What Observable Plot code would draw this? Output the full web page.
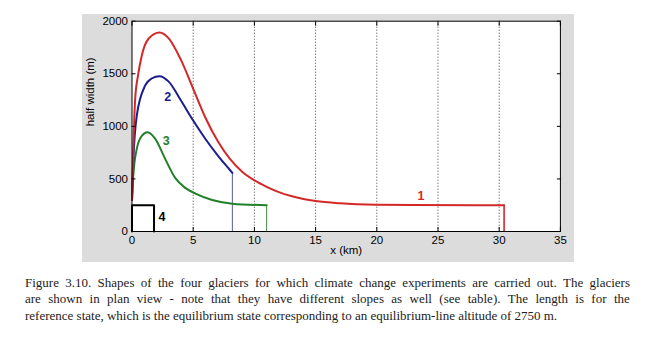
<!DOCTYPE html>
<html><head><meta charset="utf-8">
<script src="https://cdn.jsdelivr.net/npm/d3@7"></script>
<script src="https://cdn.jsdelivr.net/npm/@observablehq/plot@0.6"></script>
<style>
html,body{margin:0;padding:0;background:#fff;}
body{width:656px;height:341px;position:relative;overflow:hidden}
#panel{position:absolute;left:82px;top:14px;width:492px;height:248px;background:#dcdcdc}
#chart{position:absolute;left:0;top:0}
#caption{position:absolute;left:25px;top:274.5px;width:605px;font-family:"Liberation Serif","Times New Roman",serif;font-size:13px;line-height:16.5px;color:#222}
#caption .j{white-space:nowrap;display:flex;justify-content:space-between}
</style></head>
<body><div id="panel"></div><div id="chart"></div><div id="caption"></div>
<script>
// Glacier 1 (red)
const g1x = [0, 0.1, 0.26, 0.5, 0.8, 1.35, 2.25, 3, 4, 5, 6, 7, 8, 9, 10, 11, 12, 13, 14, 15, 17, 20, 23, 30.4];
const g1y = [300, 750, 1262, 1490, 1674, 1833, 1893, 1837, 1632, 1357, 1082, 860, 690, 568, 486, 425, 375, 338, 310, 290, 268, 254, 251, 250];
// Glacier 2 (blue)
const g2x = [0, 0.1, 0.39, 1.08, 1.6, 2.25, 3, 4, 5, 6, 7, 8, 8.2];
const g2y = [300, 650, 1103, 1389, 1455, 1477, 1425, 1245, 1055, 880, 725, 585, 557];
// Glacier 3 (green)
const g3x = [0, 0.1, 0.39, 0.8, 1.27, 1.9, 2.71, 3.53, 4.35, 5.19, 6.55, 8.19, 11];
const g3y = [300, 520, 786, 910, 944, 881, 691, 510, 415, 360, 300, 265, 250];
// Glacier 4 (black)
const g4x = [0, 0, 1.8, 1.8];
const g4y = [0, 250, 250, 0];
// Glacier termini (x, width at end)
const endX = [30.4, 8.2, 11];
const endY = [250, 557, 250];
// Glacier number labels
const labelText = ["1", "2", "3", "4"];
const labelX = [23.6, 2.92, 2.79, 2.44];
const labelY = [333, 1277, 865, 136];
// Ticks
const xTicks = [0, 5, 10, 15, 20, 25, 30, 35];
const gridTicks = [5, 10, 15, 20, 25, 30];
const yTicks = [0, 500, 1000, 1500, 2000];
const captionLines = [
  "Figure 3.10. Shapes of the four glaciers for which climate change experiments are carried out. The glaciers",
  "are shown in plan view - note that they have different slopes as well (see table). The length is for the",
  "reference state, which is the equilibrium state corresponding to an equilibrium-line altitude of 2750 m."
];

const colors = ["#d42828", "#1c1c8e", "#23802a", "#000000"];
const dropColors = ["#d42828", "#5c5ca4", "#3f8f45"];

const toPts = (xs, ys) => xs.map((x, i) => ({x, y: ys[i]}));
const s1 = toPts(g1x, g1y), s2 = toPts(g2x, g2y), s3 = toPts(g3x, g3y), s4 = toPts(g4x, g4y);
const drops = endX.map((x, i) => ({x, y: endY[i], c: dropColors[i], w: i === 0 ? 1.6 : 1}));
const labels = labelText.map((t, i) => ({t, x: labelX[i], y: labelY[i], c: colors[i]}));

const chart = Plot.plot({
  width: 656, height: 265,
  marginLeft: 131.5, marginRight: 96.1, marginTop: 20.7, marginBottom: 34,
  x: {domain: [0, 35]},
  y: {domain: [0, 2000]},
  style: {background: "transparent", fontFamily: "'Liberation Sans', Arial, sans-serif", fontSize: "11px", color: "#000"},
  marks: [
    Plot.frame({fill: "white", stroke: null}),
    Plot.gridX(gridTicks, {stroke: "#000", strokeOpacity: 0.75, strokeDasharray: "1,2"}),
    Plot.ruleX(drops, {x: "x", y1: 0, y2: "y", stroke: "c", strokeWidth: "w"}),
    Plot.line(s4, {x: "x", y: "y", stroke: colors[3], strokeWidth: 2}),
    Plot.line(s3, {x: "x", y: "y", stroke: colors[2], strokeWidth: 2, curve: "monotone-x"}),
    Plot.line(s2, {x: "x", y: "y", stroke: colors[1], strokeWidth: 2, curve: "monotone-x"}),
    Plot.line(s1, {x: "x", y: "y", stroke: colors[0], strokeWidth: 2, curve: "monotone-x"}),
    Plot.text(labels, {x: "x", y: "y", text: "t", fill: "c", fontWeight: "bold", fontSize: 12.5}),
    Plot.frame({stroke: "#000", strokeWidth: 1}),
    Plot.axisX({ticks: xTicks, tickSize: -4, tickPadding: 8, label: null, fontSize: 11.5, tickFormat: d => String(d)}),
    Plot.axisX({anchor: "top", ticks: xTicks, tickSize: -4, label: null, tickFormat: () => ""}),
    Plot.axisY({ticks: yTicks, tickSize: -4, tickPadding: 8, label: null, fontSize: 11.5, tickFormat: d => String(d)}),
    Plot.axisY({anchor: "right", ticks: yTicks, tickSize: -4, label: null, tickFormat: () => ""}),
    Plot.text(["x (km)"], {frameAnchor: "bottom", dy: 22, fontSize: 11.5}),
    Plot.text(["half width (m)"], {frameAnchor: "left", dx: -41.5, rotate: -90, fontSize: 11.5})
  ]
});
document.getElementById("chart").appendChild(chart);

const cap = document.getElementById("caption");
captionLines.forEach((line, i) => {
  const div = document.createElement("div");
  if (i < captionLines.length - 1) {
    div.className = "j";
    line.split(" ").forEach(w => { const s = document.createElement("span"); s.textContent = w; div.appendChild(s); });
  } else {
    div.textContent = line;
  }
  cap.appendChild(div);
});
</script>
</body></html>
